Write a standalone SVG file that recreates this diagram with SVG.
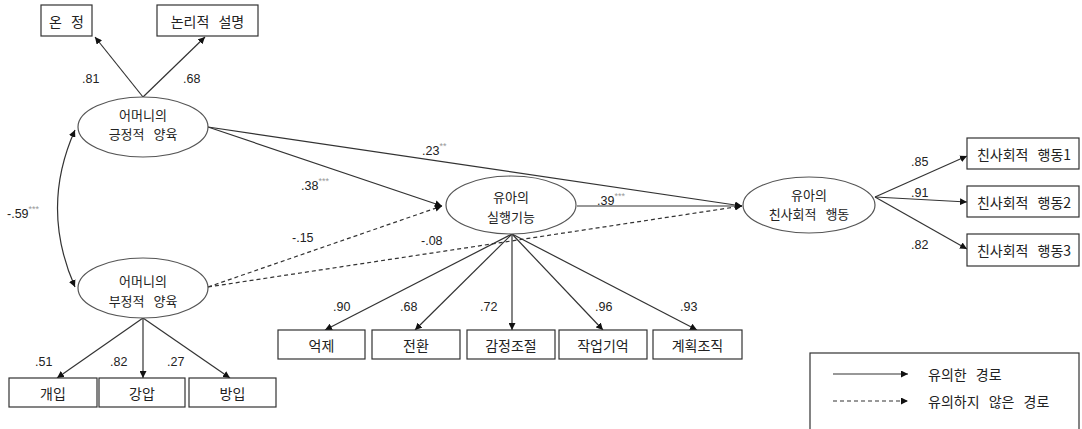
<svg xmlns="http://www.w3.org/2000/svg" width="1082" height="429" viewBox="0 0 1082 429">
<style>
.bg{fill:#fff}
.box{fill:#fff;stroke:#333;stroke-width:1.2}
.ell{fill:#fff;stroke:#555;stroke-width:1.2}
.kt{font-family:"Noto Sans CJK KR","Noto Sans",sans-serif;font-size:14px;fill:#222;text-anchor:middle;dominant-baseline:central;word-spacing:6px}
.et{font-size:13px}
.num{font-family:"Liberation Sans",Arial,sans-serif;font-size:12.5px;fill:#222}
.st{font-size:9px;fill:#999}
.ln{fill:none;stroke:#333;stroke-width:1.2}
.dl{fill:none;stroke:#333;stroke-width:1.2;stroke-dasharray:4 3}
</style>
<defs>
<marker id="ah" viewBox="0 0 10 10" refX="10" refY="5" markerWidth="7" markerHeight="7" markerUnits="userSpaceOnUse" orient="auto">
<path d="M0,0 L10,5 L0,10 z" fill="#111"/>
</marker>
<marker id="ah2" viewBox="0 0 10 10" refX="10" refY="5" markerWidth="7" markerHeight="7" markerUnits="userSpaceOnUse" orient="auto-start-reverse">
<path d="M0,0 L10,5 L0,10 z" fill="#111"/>
</marker>
</defs>
<rect class="bg" x="0" y="0" width="1082" height="429"/>

<g id="connectors">
<line class="ln" x1="143" y1="97" x2="95" y2="37" marker-end="url(#ah)"/>
<line class="ln" x1="143" y1="97" x2="205" y2="37" marker-end="url(#ah)"/>
<path class="ln" d="M75,130 Q40,208 75,287" marker-start="url(#ah2)" marker-end="url(#ah)"/>
<line class="ln" x1="208" y1="127" x2="742" y2="206" marker-end="url(#ah)"/>
<line class="ln" x1="208" y1="127" x2="442" y2="206" marker-end="url(#ah)"/>
<line class="ln" x1="577" y1="206" x2="742" y2="206" marker-end="url(#ah)"/>
<line class="dl" x1="208" y1="287" x2="442" y2="206" marker-end="url(#ah)"/>
<line class="dl" x1="208" y1="287" x2="742" y2="206" marker-end="url(#ah)"/>
<line class="ln" x1="143" y1="318" x2="57" y2="378" marker-end="url(#ah)"/>
<line class="ln" x1="143" y1="318" x2="143" y2="378" marker-end="url(#ah)"/>
<line class="ln" x1="143" y1="318" x2="230" y2="378" marker-end="url(#ah)"/>
<line class="ln" x1="512" y1="234" x2="325" y2="330" marker-end="url(#ah)"/>
<line class="ln" x1="512" y1="234" x2="415" y2="330" marker-end="url(#ah)"/>
<line class="ln" x1="512" y1="234" x2="512" y2="330" marker-end="url(#ah)"/>
<line class="ln" x1="512" y1="234" x2="603" y2="330" marker-end="url(#ah)"/>
<line class="ln" x1="512" y1="234" x2="697" y2="330" marker-end="url(#ah)"/>
<line class="ln" x1="875" y1="197" x2="967" y2="156" marker-end="url(#ah)"/>
<line class="ln" x1="875" y1="197" x2="967" y2="202" marker-end="url(#ah)"/>
<line class="ln" x1="875" y1="197" x2="967" y2="249" marker-end="url(#ah)"/>
</g>

<g id="labels">
<text class="num" x="82" y="83">.81</text>
<text class="num" x="183" y="83">.68</text>
<text class="num" x="7" y="218">-.59<tspan class="st" dy="-6">***</tspan></text>
<text class="num" x="422" y="155">.23<tspan class="st" dy="-6">**</tspan></text>
<text class="num" x="301" y="190">.38<tspan class="st" dy="-6">***</tspan></text>
<text class="num" x="597" y="205">.39<tspan class="st" dy="-6">***</tspan></text>
<text class="num" x="292" y="242">-.15</text>
<text class="num" x="421" y="245">-.08</text>
<text class="num" x="35" y="366">.51</text>
<text class="num" x="110" y="366">.82</text>
<text class="num" x="167" y="366">.27</text>
<text class="num" x="333" y="311">.90</text>
<text class="num" x="400" y="311">.68</text>
<text class="num" x="480" y="311">.72</text>
<text class="num" x="595" y="311">.96</text>
<text class="num" x="680" y="311">.93</text>
<text class="num" x="911" y="166">.85</text>
<text class="num" x="911" y="197">.91</text>
<text class="num" x="911" y="249">.82</text>
</g>

<g id="n-onjeong"><rect class="box" x="41" y="5" width="51" height="31"/><text class="kt" x="66.5" y="20.5">온 정</text></g>
<g id="n-nonri"><rect class="box" x="157" y="5" width="101" height="31"/><text class="kt" x="207.5" y="20.5">논리적 설명</text></g>

<g id="n-pos"><ellipse class="ell" cx="143" cy="127" rx="65" ry="30"/><text class="kt et" x="143" y="114">어머니의</text><text class="kt et" x="143" y="133.5">긍정적 양육</text></g>
<g id="n-neg"><ellipse class="ell" cx="143" cy="288" rx="65" ry="30"/><text class="kt et" x="143" y="280.5">어머니의</text><text class="kt et" x="143" y="300">부정적 양육</text></g>
<g id="n-ef"><ellipse class="ell" cx="511" cy="205" rx="65" ry="29"/><text class="kt et" x="511" y="196.5">유아의</text><text class="kt et" x="511" y="216">실행기능</text></g>
<g id="n-pro"><ellipse class="ell" cx="809" cy="205" rx="66" ry="28"/><text class="kt et" x="809" y="194">유아의</text><text class="kt et" x="809" y="213.5">친사회적 행동</text></g>

<g id="n-gaeip"><rect class="box" x="9" y="378" width="88" height="29"/><text class="kt" x="53" y="392.5">개입</text></g>
<g id="n-gangap"><rect class="box" x="99" y="378" width="86" height="29"/><text class="kt" x="142" y="392.5">강압</text></g>
<g id="n-bangip"><rect class="box" x="189" y="378" width="87" height="29"/><text class="kt" x="232.5" y="392.5">방입</text></g>

<g id="n-eokje"><rect class="box" x="278" y="330" width="87" height="29"/><text class="kt" x="321.5" y="344.5">억제</text></g>
<g id="n-jeonhwan"><rect class="box" x="372" y="330" width="88" height="29"/><text class="kt" x="416" y="344.5">전환</text></g>
<g id="n-gamjeong"><rect class="box" x="467" y="330" width="88" height="29"/><text class="kt" x="511" y="344.5">감정조절</text></g>
<g id="n-jakeop"><rect class="box" x="559" y="330" width="88" height="29"/><text class="kt" x="603" y="344.5">작업기억</text></g>
<g id="n-gyehoek"><rect class="box" x="653" y="330" width="89" height="29"/><text class="kt" x="697.5" y="344.5">계획조직</text></g>

<g id="n-pro1"><rect class="box" x="967" y="138" width="112" height="31"/><text class="kt" x="1024" y="153.5">친사회적 행동1</text></g>
<g id="n-pro2"><rect class="box" x="967" y="186" width="112" height="31"/><text class="kt" x="1024" y="201.5">친사회적 행동2</text></g>
<g id="n-pro3"><rect class="box" x="967" y="234" width="112" height="32"/><text class="kt" x="1024" y="250">친사회적 행동3</text></g>

<g id="legend">
<rect class="box" x="810" y="353" width="269" height="90"/>
<line class="ln" x1="833" y1="374" x2="908" y2="374" marker-end="url(#ah)"/>
<line class="dl" x1="833" y1="401" x2="908" y2="401" marker-end="url(#ah)"/>
<text class="kt" x="928" y="374" style="text-anchor:start">유의한 경로</text>
<text class="kt" x="928" y="401" style="text-anchor:start">유의하지 않은 경로</text>
</g>
</svg>
